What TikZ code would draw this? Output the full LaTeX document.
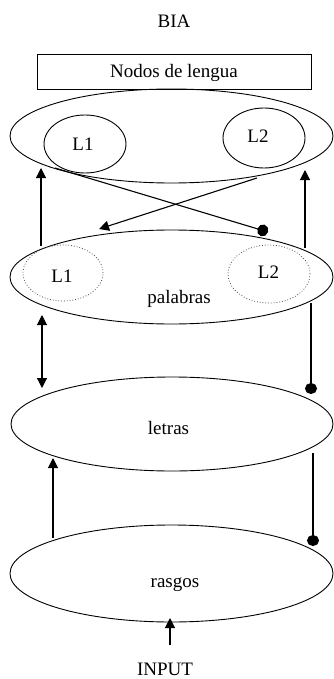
\documentclass[tikz,border=0pt]{standalone}
\usepackage{fontspec}
\setmainfont{Liberation Serif}
\usetikzlibrary{shapes.geometric,arrows.meta}
\begin{document}
\begin{tikzpicture}[x=1pt,y=-1pt,
  every node/.style={font=\fontsize{19}{22}\selectfont},
  lbl/.style={anchor=base,inner sep=0pt},
  ell/.style={draw,ellipse,inner sep=0pt,line width=0.9pt},
  dotell/.style={draw=black!70,dotted,ellipse,inner sep=0pt,line width=0.8pt},
  con/.style={line width=1.1pt},
  tri/.style={-{Triangle[length=10pt,width=10pt]}},
  dot/.style={-{Circle[length=11pt,width=12pt]}}]
\useasboundingbox (0,0) rectangle (333,679);
% title and box
\node[lbl] (bia) at (174,28) {BIA};
\node[draw,line width=0.9pt,minimum width=274pt,minimum height=35pt,inner sep=0pt] (box) at (174,71.5) {};
\node[lbl] (boxt) at (174,78) {Nodos de lengua};
% language nodes
\node[ell,minimum width=323pt,minimum height=94pt] (lang) at (171.5,136) {};
\node[ell,minimum width=82pt,minimum height=58pt] (la) at (85,144) {};
\node[ell,minimum width=82pt,minimum height=60pt] (lb) at (264,138) {};
\node[lbl] (lat) at (83,150) {L1};
\node[lbl] (lbt) at (258,143) {L2};
% palabras
\node[ell,minimum width=323pt,minimum height=94pt] (pal) at (171.5,277) {};
\node[dotell,minimum width=80pt,minimum height=56pt] (pa) at (63,273) {};
\node[dotell,minimum width=82pt,minimum height=58pt] (pb) at (269,274) {};
\node[lbl] (pat) at (62,282) {L1};
\node[lbl] (pbt) at (268.5,278) {L2};
\node[lbl] (palt) at (179,303) {palabras};
% letras
\node[ell,minimum width=322pt,minimum height=94pt] (let) at (172,424) {};
\node[lbl] (lett) at (168.5,434) {letras};
% rasgos
\node[ell,minimum width=323pt,minimum height=97pt] (ras) at (171.5,573.5) {};
\node[lbl] (rast) at (175,587) {rasgos};
\node[lbl] (inp) at (165,675) {INPUT};
% connector end points
\coordinate (c1a) at (41,246);  \coordinate (c1b) at (41,168);
\coordinate (c2a) at (305,248); \coordinate (c2b) at (305,170);
\coordinate (c3a) at (55,168);  \coordinate (c3b) at (268,232);
\coordinate (c4a) at (257,178); \coordinate (c4b) at (99,229);
\coordinate (c5a) at (42,315);  \coordinate (c5b) at (42,388);
\coordinate (c6a) at (311,303); \coordinate (c6b) at (311,394);
\coordinate (c7a) at (53,538);  \coordinate (c7b) at (53,458);
\coordinate (c8a) at (313,453); \coordinate (c8b) at (313,546);
\coordinate (c9a) at (170,645); \coordinate (c9b) at (170,618);
% connectors
\draw[con,tri] (c1a) -- (c1b);
\draw[con,tri] (c2a) -- (c2b);
\draw[con,dot] (c3a) -- (c3b);
\draw[con,tri] (c4a) -- (c4b);
\draw[con,{Triangle[length=10pt,width=10pt]}-{Triangle[length=10pt,width=10pt]}] (c5a) -- (c5b);
\draw[con,dot] (c6a) -- (c6b);
\draw[con,tri] (c7a) -- (c7b);
\draw[con,dot] (c8a) -- (c8b);
\draw[con,tri] (c9a) -- (c9b);
\end{tikzpicture}
\end{document}
